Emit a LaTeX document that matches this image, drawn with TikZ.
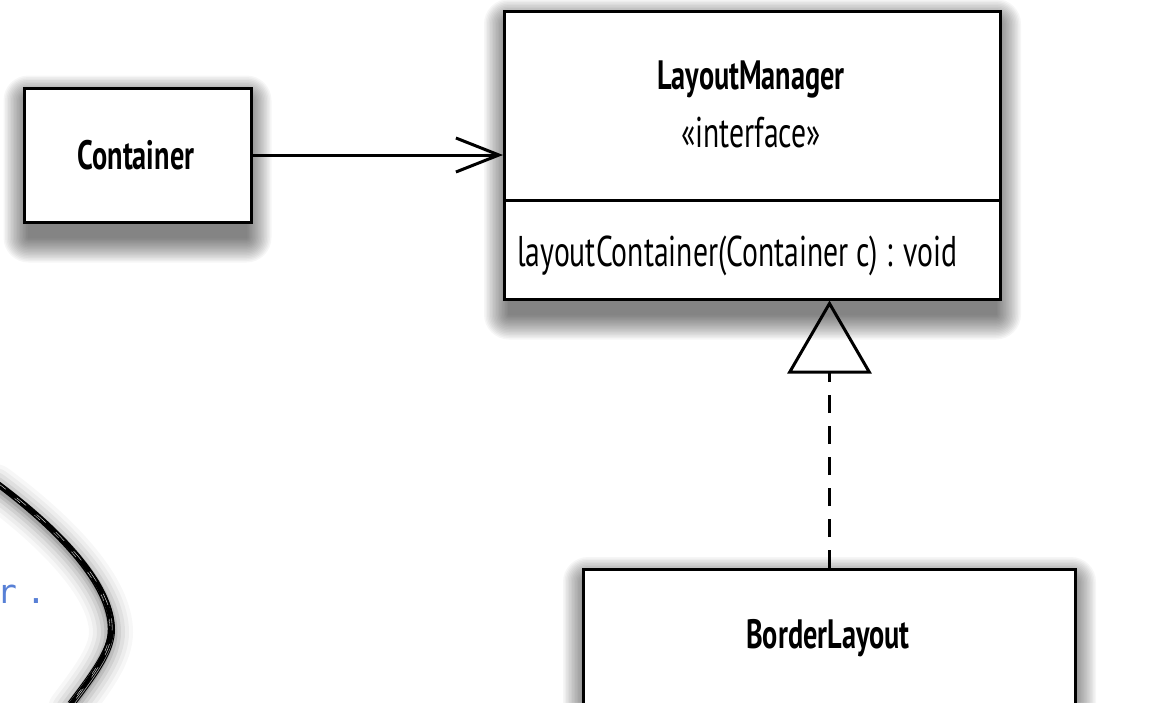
\documentclass[tikz,border=0pt]{standalone}
\usepackage{fontspec}
\newfontfamily\umlfont{PT Sans}[FakeStretch=0.69]
\newfontfamily\codefont{DejaVu Sans Mono}
\usetikzlibrary{arrows.meta}
\pgfdeclarelayer{bglayer}
\pgfdeclarelayer{shadowlayer}
\pgfsetlayers{bglayer,shadowlayer,main}
\definecolor{codeblue}{RGB}{88,128,214}
\newcommand\boxshadow[2]{%
  \begin{pgfonlayer}{shadowlayer}
  \foreach \r in {1,2.5,...,26}{
    \fill[black, opacity=0.036, rounded corners=\r pt]
      ([xshift={6pt-\r*1pt}, yshift={-14pt-\r*1pt}]#1) rectangle ([xshift={-6pt+\r*1pt}, yshift={-14pt+\r*1pt}]#2);
  }
  \end{pgfonlayer}}
\begin{document}
\begin{tikzpicture}[x=1pt,y=-1pt,
  umlbox/.style={draw=black, line width=3pt, fill=white, inner sep=0pt},
  txt/.style={inner sep=0pt, font=\umlfont\fontsize{43}{46}\selectfont},
  btxt/.style={inner sep=0pt, font=\umlfont\bfseries\fontsize{41}{46}\selectfont},
  conn/.style={line width=3pt},
  sketch/.style={draw=black, line cap=round, line join=round}]
\clip (0,0) rectangle (1167,702);
\begin{pgfonlayer}{bglayer}
\fill[white] (0,0) rectangle (1167,702);
\end{pgfonlayer}
\def\skc#1#2{(-5+#1,482+#2) .. controls (60+#1,530+#2) and (111+#1,585+#2) .. (111+#1,628+#2) .. controls (111+#1,650+#2) and (95+#1,672+#2) .. (70+#1,705+#2)}
% shadow of sketched curve
\foreach \w/\o in {44/0.03, 36/0.04, 28/0.05, 20/0.07, 13/0.09, 7/0.12}{
  \draw[line width=\w pt, black, opacity=\o, line cap=round, yshift=-4pt] \skc{0}{0};
}
% sketched curve
\draw[sketch, line width=4pt] \skc{0}{0};
\draw[sketch, line width=1.6pt] \skc{2.5}{-1};
\draw[sketch, line width=1.4pt] \skc{-2.5}{1};
\draw[sketch, line width=1pt] \skc{3.5}{1.5};
\draw[sketch, line width=1pt] \skc{-1.5}{-3};
\draw[white, line width=0.35pt, dash pattern=on 12pt off 14pt] \skc{1.2}{0};
\draw[white, line width=0.3pt, dash pattern=on 7pt off 19pt] \skc{-1}{0.6};
\node[inner sep=0pt, anchor=base west, text=codeblue, font=\codefont\fontsize{33}{36}\selectfont] (code) at (-3,603) {r\kern9pt.};
% boxes
\node[umlbox, minimum width=227pt, minimum height=134pt] (cont) at (137.5,155) {};
\node[umlbox, minimum width=496pt, minimum height=189pt] (lmhead) at (752.5,106) {};
\node[umlbox, minimum width=496pt, minimum height=99pt] (lmbody) at (752.5,249.5) {};
\node[umlbox, minimum width=492pt, minimum height=200pt] (bl) at (829.5,669.5) {};
\boxshadow{cont.south west}{cont.north east}
\boxshadow{lmbody.south west}{lmhead.north east}
\boxshadow{bl.south west}{bl.north east}
% texts
\node[btxt, anchor=base] (conttxt) at (136,169) {Container};
\node[btxt, anchor=base] (lmname) at (751,89) {LayoutManager};
\node[txt, anchor=base] (lmster) at (751,147) {«interface»};
\node[txt, anchor=base west] (lmop) at (517,266) {layoutContainer(Container c) : void};
\node[btxt, anchor=base] (bltxt) at (828,648) {BorderLayout};
% connectors
\draw[conn, -{Straight Barb[length=43pt, width=34pt, line width=3pt]}] (cont.east) -- (lmhead.west |- cont.east);
\draw[conn, dash pattern=on 18pt off 13pt, -{Triangle[open, length=73pt, width=84pt, line width=3pt]}] (bl.north) -- (bl.north |- lmbody.south);
\end{tikzpicture}
\end{document}
